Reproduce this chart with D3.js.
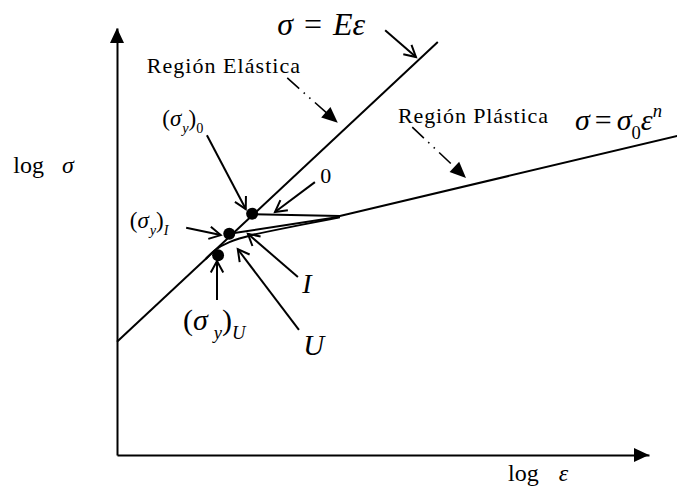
<!DOCTYPE html>
<html>
<head>
<meta charset="utf-8">
<script src="https://cdn.jsdelivr.net/npm/d3@7"></script>
<style>
  body { margin: 0; background: #fff; }
</style>
</head>
<body>
<svg id="chart"></svg>
<script>
// Everything is in diagram units: log(strain) along x, log(stress) along y.
const axisMax = [10, 10];

// straight elastic line  sigma = E eps
const elastic = [[0, 2.65], [6.03, 9.67]];
// the three loading paths that end on the plastic line sigma = sigma0 eps^n
const pathO = [[2.54, 5.64], [4.19, 5.60], [10.53, 7.47]];
const pathI = [[2.11, 5.18], [4.19, 5.58]];
const pathU = [[1.67, 4.59], [1.82, 4.80], [2.09, 4.99], [2.50, 5.15], [3.06, 5.29], [4.19, 5.57]];
// yield points 0, I, U
const yieldPoints = [[2.54, 5.65], [2.11, 5.18], [1.90, 4.68]];

// [from, to] of the small pointer arrows (open heads)
const pointers = [
  [[5.04, 9.95], [5.62, 9.32]],   // sigma = E eps
  [[1.69, 7.49], [2.42, 5.76]],   // (sigma_y)0
  [[3.72, 6.39], [2.97, 5.69]],   // 0
  [[1.30, 5.32], [1.95, 5.15]],   // (sigma_y)I
  [[3.40, 4.17], [2.46, 5.18]],   // I
  [[3.42, 2.93], [2.27, 4.82]],   // U
  [[1.88, 3.63], [1.88, 4.54]]    // (sigma_y)U
];
// dash-dot arrows from the region names (filled heads)
const regionArrows = [
  [[3.20, 8.83], [4.15, 7.78]],
  [[5.55, 7.68], [6.56, 6.49]]
];

const regionNames = ["Región Elástica", "Región Plástica"];
const regionAt = [[0.56, 8.95], [5.28, 7.78]];
const regionWidth = [2.88, 2.82];

const width = 677, height = 487;
const serif = "'Liberation Serif', 'Times New Roman', serif";

const svg = d3.select("#chart")
  .attr("width", width)
  .attr("height", height);

const x = d3.scaleLinear().domain([0, axisMax[0]]).range([117, 649]);
const y = d3.scaleLinear().domain([0, axisMax[1]]).range([455, 28]);

const line = d3.line().x((d) => x(d[0])).y((d) => y(d[1]));
const curve = d3.line().x((d) => x(d[0])).y((d) => y(d[1])).curve(d3.curveBasis);

// axes, no ticks, just the two arrows
svg.append("g")
  .attr("transform", `translate(0,${y(0)})`)
  .call(d3.axisBottom(x).ticks(0).tickSizeOuter(0))
  .call((g) => g.select(".domain").attr("stroke-width", 2));
svg.append("g")
  .attr("transform", `translate(${x(0)},0)`)
  .call(d3.axisLeft(y).ticks(0).tickSizeOuter(0))
  .call((g) => g.select(".domain").attr("stroke-width", 2));

function solidHead(p0, p1, len, half) {
  const a = Math.atan2(p1[1] - p0[1], p1[0] - p0[0]);
  const bx = p1[0] - len * Math.cos(a), by = p1[1] - len * Math.sin(a);
  const nx = -Math.sin(a) * half, ny = Math.cos(a) * half;
  svg.append("path")
    .attr("d", `M${p1[0]},${p1[1]}L${bx + nx},${by + ny}L${bx - nx},${by - ny}Z`)
    .attr("fill", "black");
}

function openHead(p0, p1, len, spread) {
  const a = Math.atan2(p1[1] - p0[1], p1[0] - p0[0]);
  const pts = [a + Math.PI - spread, a + Math.PI + spread].map(
    (b) => [p1[0] + len * Math.cos(b), p1[1] + len * Math.sin(b)]
  );
  svg.append("path")
    .attr("d", `M${pts[0][0]},${pts[0][1]}L${p1[0]},${p1[1]}L${pts[1][0]},${pts[1][1]}`)
    .attr("fill", "none")
    .attr("stroke", "black")
    .attr("stroke-width", 2);
}

solidHead([x(0), y(0)], [x(axisMax[0]), y(0)], 15, 7);
solidHead([x(0), y(0)], [x(0), y(axisMax[1])], 15, 7);

// the curves
svg.append("path").datum(elastic).attr("d", line)
  .attr("fill", "none").attr("stroke", "black").attr("stroke-width", 2);
svg.append("path").datum(pathO).attr("d", line)
  .attr("fill", "none").attr("stroke", "black").attr("stroke-width", 2);
svg.append("path").datum(pathI).attr("d", line)
  .attr("fill", "none").attr("stroke", "black").attr("stroke-width", 2);
svg.append("path").datum(pathU).attr("d", curve)
  .attr("fill", "none").attr("stroke", "black").attr("stroke-width", 2);

svg.selectAll("circle.yield")
  .data(yieldPoints)
  .enter()
  .append("circle")
  .attr("class", "yield")
  .attr("cx", (d) => x(d[0]))
  .attr("cy", (d) => y(d[1]))
  .attr("r", 6)
  .attr("fill", "black");

pointers.forEach(([a, b]) => {
  const p0 = [x(a[0]), y(a[1])], p1 = [x(b[0]), y(b[1])];
  svg.append("line")
    .attr("x1", p0[0]).attr("y1", p0[1])
    .attr("x2", p1[0]).attr("y2", p1[1])
    .attr("stroke", "black").attr("stroke-width", 2);
  openHead(p0, p1, 13, 0.5);
});

regionArrows.forEach(([a, b]) => {
  const p0 = [x(a[0]), y(a[1])], p1 = [x(b[0]), y(b[1])];
  const ang = Math.atan2(p1[1] - p0[1], p1[0] - p0[0]);
  svg.append("line")
    .attr("x1", p0[0]).attr("y1", p0[1])
    .attr("x2", p1[0] - 12 * Math.cos(ang)).attr("y2", p1[1] - 12 * Math.sin(ang))
    .attr("stroke", "black").attr("stroke-width", 1.6)
    .attr("stroke-dasharray", "16,6,1.5,6,1.5,6");
  solidHead(p0, p1, 16, 7);
});

// text
svg.selectAll("text.region")
  .data(regionNames)
  .enter()
  .append("text")
  .attr("class", "region")
  .attr("x", (d, i) => x(regionAt[i][0]))
  .attr("y", (d, i) => y(regionAt[i][1]))
  .attr("font-family", serif)
  .attr("font-size", 22)
  .attr("textLength", (d, i) => x(regionWidth[i]) - x(0))
  .attr("lengthAdjust", "spacing")
  .text((d) => d);

// math label: parts are [text, kind, dx] with kind "r", "i", "sub", "isub", "sup", "isup"
function mathLabel(at, size, parts) {
  const t = svg.append("text")
    .attr("x", x(at[0]))
    .attr("y", y(at[1]))
    .attr("font-family", serif)
    .attr("font-size", size);
  let shift = 0;
  parts.forEach(([s, kind, dx]) => {
    const want = kind.includes("sub") ? size * 0.3 : kind.includes("sup") ? -size * 0.42 : 0;
    const sp = t.append("tspan").text(s).attr("dy", want - shift);
    shift = want;
    if (dx) sp.attr("dx", dx);
    if (kind.startsWith("i")) sp.attr("font-style", "italic");
    if (kind.includes("sub") || kind.includes("sup")) sp.attr("font-size", size * 0.62);
  });
}

mathLabel([3.01, 9.84], 32, [["σ", "i"], ["=", "r", 11], ["Eε", "i", 11]]);
mathLabel([8.61, 7.61], 30, [["σ", "i"], ["=", "r", 5], ["σ", "i", 5], ["0", "sub"], ["ε", "i"], ["n", "isup"]]);
mathLabel([0.85, 7.70], 23, [["(", "r"], ["σ", "i"], ["y", "isub", 1], [")", "r"], ["0", "sub"]]);
mathLabel([0.24, 5.32], 23, [["(", "r"], ["σ", "i"], ["y", "isub", 1], [")", "r"], ["I", "isub"]]);
mathLabel([1.24, 2.93], 30, [["(", "r"], ["σ", "i"], ["y", "isub", 6], [")", "r"], ["U", "isub"]]);
mathLabel([3.82, 6.37], 22, [["0", "r"]]);
mathLabel([3.48, 3.79], 28, [["I", "i"]]);
mathLabel([3.50, 2.34], 29, [["U", "i"]]);
mathLabel([-1.95, 6.60], 24, [["log", "r"], ["σ", "i", 18]]);
mathLabel([7.35, -0.61], 24, [["log", "r"], ["ε", "i", 20]]);
</script>
</body>
</html>
